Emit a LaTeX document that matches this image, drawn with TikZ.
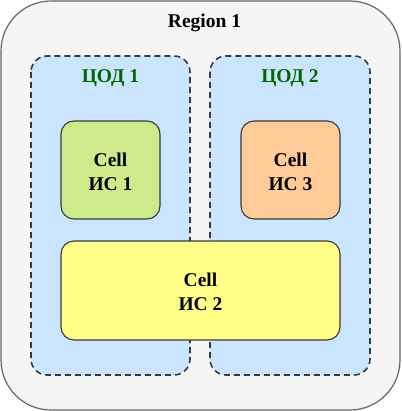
\documentclass[tikz,border=0pt]{standalone}
\usepackage{fontspec}
\setmainfont{Liberation Serif}
\definecolor{outerfill}{HTML}{F5F5F5}
\definecolor{outerline}{HTML}{666666}
\definecolor{dcfill}{HTML}{CCE5FF}
\definecolor{dkline}{HTML}{36393D}
\definecolor{greenfill}{HTML}{CDEB8B}
\definecolor{orangefill}{HTML}{FFCC99}
\definecolor{yellowfill}{HTML}{FFFF88}
\definecolor{dcgreen}{HTML}{006600}
\begin{document}
\begin{tikzpicture}[x=1pt,y=-1pt,
  lbl/.style={font=\fontsize{19.5}{24}\selectfont\bfseries, align=center, inner sep=0pt},
  regionbox/.style={draw=outerline, fill=outerfill, line width=1.2pt, rounded corners=50pt},
  dcbox/.style={draw=dkline, fill=dcfill, line width=1.6pt, dash pattern=on 6pt off 4pt, rounded corners=16pt},
  cellbox/.style={draw=dkline, line width=1.1pt, rounded corners=13pt}]
\useasboundingbox (0,0) rectangle (401,411);
\draw[regionbox] (1,1) rectangle (400,410);
\node[lbl, anchor=base] (region) at (204.5,27.7) {Region 1};
\draw[dcbox] (31,56) rectangle (190,375);
\draw[dcbox] (210,56) rectangle (370,375);
\node[lbl, anchor=base, text=dcgreen] (dc1) at (110.5,82.7) {ЦОД 1};
\node[lbl, anchor=base, text=dcgreen] (dc2) at (290,82.7) {ЦОД 2};
\draw[cellbox, fill=greenfill] (61,121) rectangle (160,219);
\draw[cellbox, fill=orangefill] (241,121) rectangle (340,219);
\draw[cellbox, fill=yellowfill] (61,241) rectangle (340,340);
\node[lbl] (is1) at (110.5,172) {Cell\\ИС 1};
\node[lbl] (is3) at (290.5,172) {Cell\\ИС 3};
\node[lbl] (is2) at (200.5,292) {Cell\\ИС 2};
\end{tikzpicture}
\end{document}
